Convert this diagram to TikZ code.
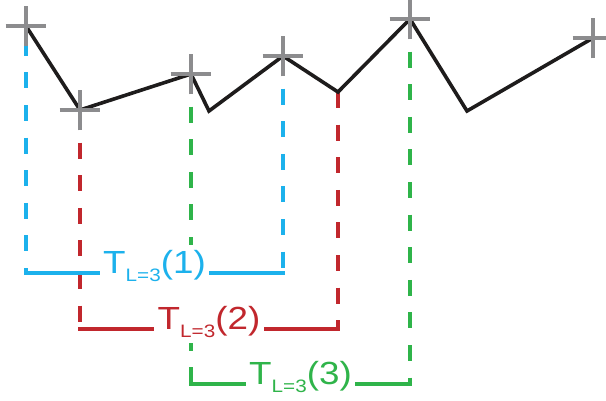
\documentclass[tikz,border=0pt]{standalone}
\usepackage{fontspec}
\usepackage{xcolor}
\usetikzlibrary{shapes.misc,calc}
\newfontfamily\labelfont[FakeStretch=1.15]{Liberation Sans}
\definecolor{skyblue}{HTML}{1CB1EC}
\definecolor{brickred}{HTML}{C1272D}
\definecolor{leafgreen}{HTML}{2FB44A}
\definecolor{crossgrey}{HTML}{8C8C8E}
\definecolor{inkblack}{HTML}{1E1C1C}
\newcommand{\tlabel}[1]{T\raisebox{-8.5pt}{\fontsize{18}{20}\selectfont L=3}(#1)}

\begin{document}
\begin{tikzpicture}[
  x=1pt, y=-1pt,
  plus/.style={cross out, draw=crossgrey, line width=3.3pt, rotate=45,
    minimum size=25.5pt, inner sep=0pt},
  trace/.style={draw=inkblack, line width=3.6pt},
  level/.style={line width=3.4pt, line cap=rect},
  drop/.style={line width=3.4pt, dash pattern=on 16pt off 16.6pt},
  tag/.style={font=\labelfont\fontsize{32}{36}\selectfont, fill=white,
    inner xsep=5pt, inner ysep=5pt, anchor=base}
]
\useasboundingbox (0,0) rectangle (606,400);

%% Signal points (crosses on p1,p2,p3,p5,p7,p9)
\coordinate (p1) at (26,26);
\coordinate (p2) at (80,110);
\coordinate (p3) at (191,74);
\coordinate (p4) at (209,111);
\coordinate (p5) at (283,56);
\coordinate (p6) at (338,92);
\coordinate (p7) at (410,19);
\coordinate (p8) at (467,111);
\coordinate (p9) at (593,38);

%% Bracket corners
\coordinate (bl1) at (26,273);
\coordinate (br1) at (283,273);
\coordinate (bl2) at (80,329);
\coordinate (br2) at (338,329);
\coordinate (bl3) at (191,384);
\coordinate (br3) at (410,384);

%% Dashed drops
\draw[drop, skyblue, dash phase=18.8pt] (p1) -- (bl1);
\draw[drop, skyblue] (p5) -- (br1);
\draw[drop, brickred] (p2) -- (bl2);
\draw[drop, brickred] (p6) -- (br2);
\draw[drop, leafgreen] (p3) -- (bl3);
\draw[drop, leafgreen] (p7) -- (br3);

%% Labels
\node[tag, text=skyblue] (tag1) at ($(bl1)!0.5!(br1)$) {\tlabel{1}};
\node[tag, text=brickred] (tag2) at ($(bl2)!0.5!(br2)$) {\tlabel{2}};
\node[tag, text=leafgreen] (tag3) at ($(bl3)!0.5!(br3)$) {\tlabel{3}};

%% Brackets
\draw[level, skyblue] (bl1) -- (bl1 -| tag1.west);
\draw[level, skyblue] (br1 -| tag1.east) -- (br1);
\draw[level, brickred] (bl2) -- (bl2 -| tag2.west);
\draw[level, brickred] (br2 -| tag2.east) -- (br2);
\draw[level, leafgreen] (bl3) -- (bl3 -| tag3.west);
\draw[level, leafgreen] (br3 -| tag3.east) -- (br3);

%% Trace
\draw[trace] (p1) -- (p2) -- (p3) -- (p4) -- (p5) -- (p6) -- (p7) -- (p8) -- (p9);

%% Crosses
\node[plus] (c1) at (p1) {};
\node[plus] (c2) at (p2) {};
\node[plus] (c3) at (p3) {};
\node[plus] (c5) at (p5) {};
\node[plus] (c7) at (p7) {};
\node[plus] (c9) at (p9) {};

\end{tikzpicture}
\end{document}
